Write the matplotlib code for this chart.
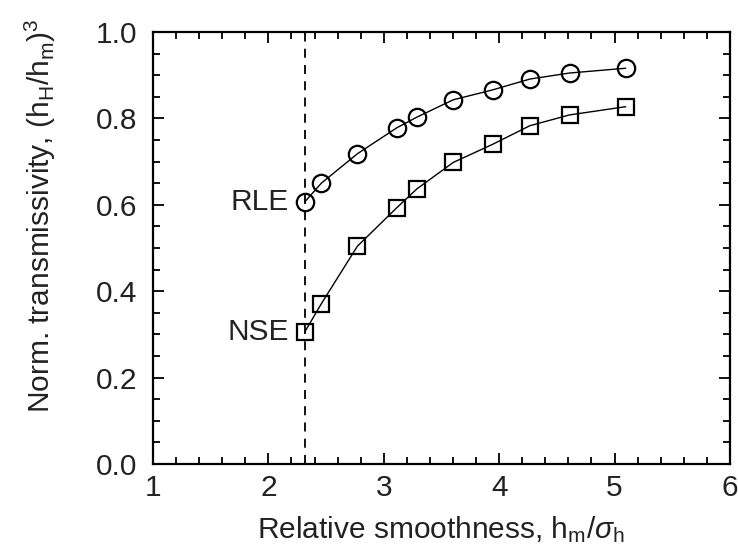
import matplotlib
matplotlib.use("Agg")
import matplotlib.pyplot as plt
from matplotlib.ticker import MultipleLocator, FormatStrFormatter

plt.rcParams['font.family'] = ['Liberation Sans', 'DejaVu Sans']
plt.rcParams['mathtext.fontset'] = 'custom'
plt.rcParams['mathtext.rm'] = 'Liberation Sans'
plt.rcParams['mathtext.it'] = 'Liberation Sans:italic'

x_vals = [2.316, 2.459, 2.771, 3.112, 3.288, 3.602, 3.944, 4.266, 4.610, 5.095]
rle = [0.607, 0.650, 0.718, 0.778, 0.803, 0.843, 0.866, 0.891, 0.905, 0.916]
nse = [0.306, 0.371, 0.504, 0.593, 0.637, 0.698, 0.740, 0.783, 0.808, 0.827]
x_limit = 2.316

FS = 21.5
TXT = '#222222'

fig = plt.figure(figsize=(7.38, 5.56), dpi=100)
ax = fig.add_axes([0.2073, 0.1655, 0.7818, 0.777])

ax.axvline(x_limit, color='black', linestyle=(0, (5, 4)), linewidth=1.3, zorder=1)
ax.plot(x_vals, rle, color='black', linewidth=1.0, marker='o', markersize=12.5,
        markerfacecolor='none', markeredgecolor='black', markeredgewidth=1.6, zorder=3)
ax.plot(x_vals, nse, color='black', linewidth=1.0, marker='s', markersize=12,
        markerfacecolor='none', markeredgecolor='black', markeredgewidth=1.6, zorder=3)

ax.text(x_vals[0] - 0.14, rle[0], 'RLE', ha='right', va='center', fontsize=FS, color=TXT)
ax.text(x_vals[0] - 0.14, nse[0], 'NSE', ha='right', va='center', fontsize=FS, color=TXT)

ax.set_xlim(1, 6)
ax.set_ylim(0, 1.0)
ax.xaxis.set_major_locator(MultipleLocator(1))
ax.xaxis.set_minor_locator(MultipleLocator(0.2))
ax.yaxis.set_major_locator(MultipleLocator(0.2))
ax.yaxis.set_minor_locator(MultipleLocator(0.05))
ax.yaxis.set_major_formatter(FormatStrFormatter('%.1f'))
ax.tick_params(which='both', direction='in', top=True, right=True, width=1.3)
ax.tick_params(which='major', length=8, labelsize=FS, labelcolor=TXT)
ax.tick_params(axis='x', which='major', pad=7)
ax.tick_params(axis='y', which='major', pad=11)
ax.tick_params(which='minor', length=5)
for s in ax.spines.values():
    s.set_linewidth(1.6)

ax.set_xlabel(r'Relative smoothness, $\mathrm{h_m/}\sigma\mathrm{_h}$', fontsize=FS, labelpad=9, color=TXT)
ax.set_ylabel(r'Norm. transmissivity, $\mathrm{(h_H/h_m)^3}$', fontsize=FS, color=TXT)
ax.yaxis.set_label_coords(-0.165, 0.575)

fig.savefig('out.png', dpi=100)
